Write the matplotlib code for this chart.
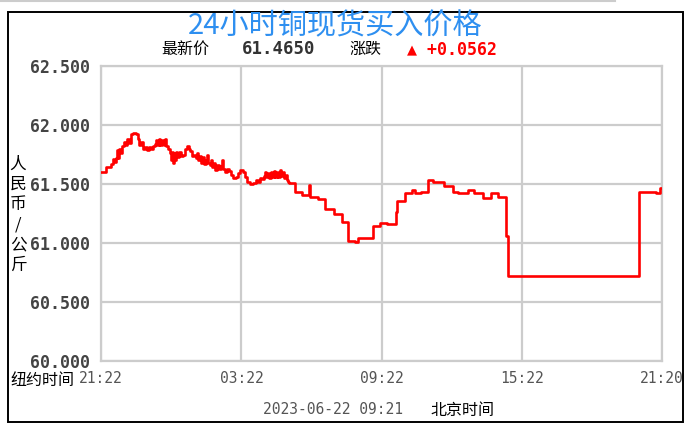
import matplotlib
matplotlib.use("Agg")
import matplotlib.pyplot as plt
from matplotlib.patches import Rectangle

plt.rcParams['font.family'] = ['Noto Sans CJK SC', 'DejaVu Sans']

# minutes since 21:22 (New York time) and price (RMB / kg)
minutes = [0, 8, 13, 21, 26, 31, 33, 39, 41, 44, 46, 51, 54, 59, 64, 67, 72, 77, 82, 90,
           95, 98, 103, 108, 113, 118, 123, 128, 133, 139, 141, 144, 149, 151, 157, 162, 164, 167, 172, 177,
           180, 182, 185, 187, 190, 193, 195, 200, 205, 210, 216, 221, 226, 228, 234, 239, 244, 246, 249, 254,
           257, 262, 264, 270, 272, 275, 280, 282, 285, 290, 293, 298, 303, 308, 311, 313, 318, 323, 329, 334,
           339, 347, 352, 357, 365, 370, 375, 382, 390, 398, 403, 408, 413, 418, 421, 424, 429, 431, 436, 439,
           444, 447, 452, 454, 459, 462, 467, 470, 475, 477, 480, 483, 498, 516, 532, 535, 557, 575, 596, 619,
           634, 652, 660, 696, 716, 734, 755, 760, 780, 798, 806, 819, 837, 852, 878, 901, 916, 940, 955, 978,
           999, 1017, 1037, 1042, 1379, 1422, 1434, 1438]
prices = [61.60, 61.60, 61.64, 61.64, 61.67, 61.71, 61.69, 61.72, 61.79, 61.72, 61.80, 61.76, 61.82, 61.86, 61.83, 61.88, 61.85, 61.92, 61.93, 61.92,
          61.88, 61.83, 61.86, 61.80, 61.81, 61.79, 61.81, 61.80, 61.82, 61.84, 61.87, 61.83, 61.88, 61.83, 61.87, 61.83, 61.88, 61.82, 61.80, 61.76,
          61.70, 61.77, 61.68, 61.76, 61.70, 61.77, 61.73, 61.77, 61.74, 61.75, 61.80, 61.82, 61.80, 61.78, 61.74, 61.75, 61.72, 61.76, 61.70, 61.74,
          61.68, 61.73, 61.67, 61.70, 61.75, 61.68, 61.66, 61.70, 61.64, 61.68, 61.62, 61.66, 61.63, 61.65, 61.70, 61.63, 61.60, 61.63, 61.61, 61.58,
          61.55, 61.56, 61.59, 61.62, 61.60, 61.56, 61.52, 61.50, 61.51, 61.53, 61.52, 61.55, 61.54, 61.57, 61.60, 61.56, 61.59, 61.55, 61.60, 61.56,
          61.61, 61.56, 61.60, 61.56, 61.62, 61.57, 61.60, 61.55, 61.58, 61.53, 61.52, 61.51, 61.43, 61.41, 61.49, 61.39, 61.37, 61.29, 61.25, 61.18,
          61.02, 61.01, 61.04, 61.14, 61.17, 61.16, 61.26, 61.36, 61.42, 61.45, 61.42, 61.43, 61.53, 61.52, 61.48, 61.43, 61.42, 61.45, 61.42, 61.38,
          61.42, 61.39, 61.06, 60.72, 61.43, 61.42, 61.465, 61.465]

x_ticks = [0, 360, 720, 1080, 1438]
x_labels = ["21:22", "03:22", "09:22", "15:22", "21:20"]
y_ticks = [60.0, 60.5, 61.0, 61.5, 62.0, 62.5]
y_labels = ["60.000", "60.500", "61.000", "61.500", "62.000", "62.500"]

title = "24小时铜现货买入价格"
latest_label = "最新价"
latest_value = "61.4650"
change_label = "涨跌"
change_value = "▲ +0.0562"
y_axis_label = "人民币/公斤"
ny_label = "纽约时间"
stamp = "2023-06-22 09:21"
bj_label = "北京时间"

W, H = 696, 433
fig = plt.figure(figsize=(W / 100, H / 100), dpi=100)
fig.patch.set_facecolor("white")

ax = fig.add_axes([101 / W, 1 - 361 / H, (662 - 101) / W, (361 - 66) / H])
ax.step(minutes, prices, where="post", color="#ff0000", lw=1.9, zorder=3)
ax.set_xlim(0, 1438)
ax.set_ylim(60.0, 62.5)
ax.set_xticks(x_ticks)
ax.set_xticklabels(x_labels, family="DejaVu Sans Mono", fontsize=10.5, color="#555555")
ax.set_yticks(y_ticks)
ax.set_yticklabels(y_labels, family="DejaVu Sans Mono", fontsize=12, fontweight="bold", color="#444444")
ax.tick_params(length=0, pad=8)
ax.tick_params(axis="x", pad=7)
ax.grid(True, color="#cccccc", lw=1.6, zorder=1)
for s in ax.spines.values():
    s.set_color("#cccccc")
    s.set_linewidth(1.6)

# outer border
fig.patches.append(Rectangle((8 / W, 1 - 422 / H), (683 - 8) / W, (422 - 12) / H,
                             transform=fig.transFigure, fill=False, ec="black", lw=1.4))
fig.add_artist(plt.Line2D([0, 615 / W], [1 - 1 / H, 1 - 1 / H], transform=fig.transFigure,
                          color="#cccccc", lw=1.5))

fig.text(335 / W, 1 - 26 / H, title, ha="center", va="center", fontsize=21, color="#2e8ff0")
fig.text(185 / W, 1 - 49 / H, latest_label, ha="center", va="center", fontsize=11.5, color="black")
fig.text(279 / W, 1 - 49 / H, latest_value, ha="center", va="center", fontsize=12.5,
         family="DejaVu Sans Mono", fontweight="bold", color="#333333")
fig.text(365 / W, 1 - 49 / H, change_label, ha="center", va="center", fontsize=11.5, color="black")
fig.text(452 / W, 1 - 49 / H, change_value, ha="center", va="center", fontsize=12,
         family=["DejaVu Sans Mono", "DejaVu Sans"], fontweight="bold", color="#ff0000")

fig.text(18 / W, 1 - 215 / H, "\n".join(y_axis_label), ha="center", va="center",
         fontsize=12, color="black", linespacing=1.25)

fig.text(42 / W, 1 - 381 / H, ny_label, ha="center", va="center", fontsize=11.5, color="black")
fig.text(333 / W, 1 - 410 / H, stamp, ha="center", va="center", fontsize=10.5,
         family="DejaVu Sans Mono", color="#555555")
fig.text(462 / W, 1 - 410 / H, bj_label, ha="center", va="center", fontsize=11.5, color="black")

fig.savefig("out.png", dpi=100)
